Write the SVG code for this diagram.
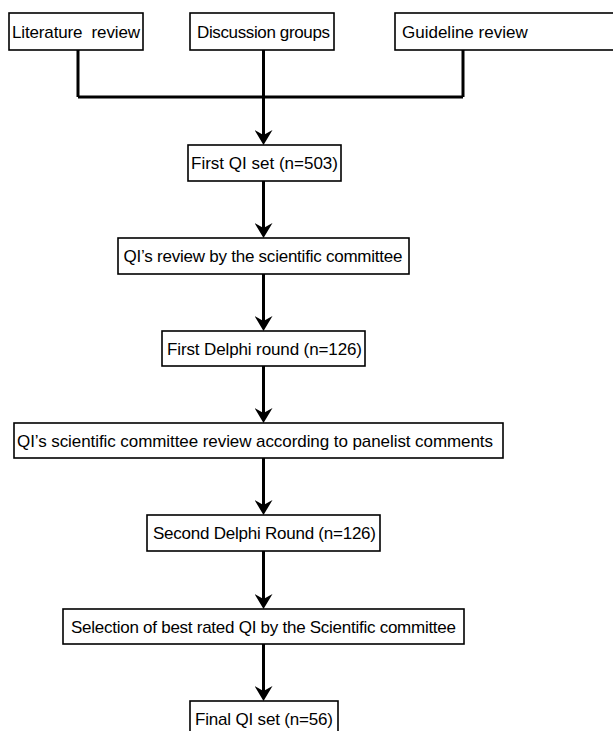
<svg xmlns="http://www.w3.org/2000/svg" width="613" height="731" viewBox="0 0 613 731">
<defs>
<style>
.box{fill:#fff;stroke:#000;stroke-width:1.6}
.lbl{font-family:"Liberation Sans",Arial,sans-serif;font-size:17px;fill:#000;text-anchor:middle;dominant-baseline:central;white-space:pre}
.ln{fill:none;stroke:#000;stroke-width:3}
.arr{fill:none;stroke:#000;stroke-width:3;marker-end:url(#ah)}
</style>
<marker id="ah" markerUnits="userSpaceOnUse" markerWidth="16" markerHeight="18" viewBox="0 0 16 18" refX="9" refY="9" orient="auto">
<path d="M0,0 L5,9 L0,18 L15,9 Z" fill="#000"/>
</marker>
</defs>
<rect width="613" height="731" fill="#fff"/>
<g id="connectors">
<path class="ln" d="M78,50 V97 M263.5,50 V97 M463,50 V97 M78,97 H463"/>
<line class="arr" x1="263.5" y1="97" x2="263.5" y2="139"/>
<line class="arr" x1="263.5" y1="181" x2="263.5" y2="232"/>
<line class="arr" x1="263.5" y1="274" x2="263.5" y2="325"/>
<line class="arr" x1="263.5" y1="366" x2="263.5" y2="417"/>
<line class="arr" x1="263.5" y1="458" x2="263.5" y2="509"/>
<line class="arr" x1="263.5" y1="551" x2="263.5" y2="603"/>
<line class="arr" x1="263.5" y1="644" x2="263.5" y2="695"/>
</g>
<g id="lit"><rect class="box" x="9" y="13" width="134" height="37"/><text class="lbl" x="76" y="32" textLength="128" xml:space="preserve">Literature  review</text></g>
<g id="disc"><rect class="box" x="190" y="13" width="144" height="37"/><text class="lbl" x="263.5" y="32" textLength="133">Discussion groups</text></g>
<g id="guide"><rect class="box" x="395" y="13" width="230" height="37"/><text class="lbl" x="402" y="32" style="text-anchor:start">Guideline review</text></g>
<g id="first"><rect class="box" x="188" y="145" width="153" height="36"/><text class="lbl" x="264.5" y="163.5" textLength="147">First QI set (n=503)</text></g>
<g id="review"><rect class="box" x="118" y="238" width="291" height="36"/><text class="lbl" x="263" y="256.5" textLength="279">QI’s review by the scientific committee</text></g>
<g id="delphi1"><rect class="box" x="162" y="331" width="203" height="35"/><text class="lbl" x="264.5" y="349" textLength="195">First Delphi round (n=126)</text></g>
<g id="panel"><rect class="box" x="14" y="423" width="489" height="35"/><text class="lbl" x="255" y="441" textLength="476">QI’s scientific committee review according to panelist comments</text></g>
<g id="delphi2"><rect class="box" x="147" y="515" width="233" height="36"/><text class="lbl" x="264.5" y="533.5" textLength="223">Second Delphi Round (n=126)</text></g>
<g id="select"><rect class="box" x="63" y="609" width="401" height="35"/><text class="lbl" x="263.5" y="627" textLength="385">Selection of best rated QI by the Scientific committee</text></g>
<g id="final"><rect class="box" x="190" y="701" width="148" height="37"/><text class="lbl" x="264" y="719" textLength="138">Final QI set (n=56)</text></g>
</svg>
